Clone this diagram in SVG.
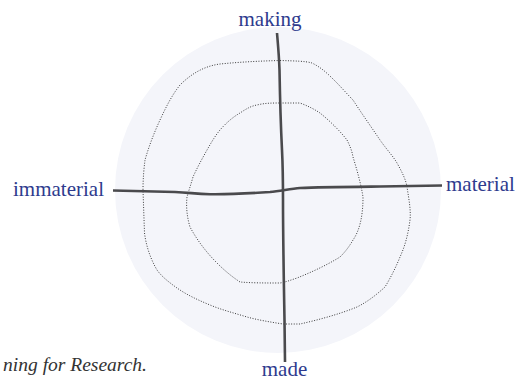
<svg xmlns="http://www.w3.org/2000/svg" width="517" height="381" viewBox="0 0 517 381">
  <style>
    .axis { fill: none; stroke: #4a4a4d; stroke-width: 2.6; stroke-linecap: butt; stroke-linejoin: round; }
    .loop { fill: none; stroke: #3a3a3a; stroke-width: 1; stroke-dasharray: 1 1.6; stroke-linejoin: round; }
    .label { font-family: "Liberation Serif", "DejaVu Serif", serif; font-size: 21px; fill: #2e3b8e; }
    .caption { font-family: "Liberation Serif", "DejaVu Serif", serif; font-style: italic; font-size: 19.5px; fill: #333; }
  </style>

  <rect width="517" height="381" fill="#ffffff"/>

  <!-- backdrop disc -->
  <g id="disc">
    <circle cx="278" cy="190" r="163" fill="#f4f5fa"/>
  </g>

  <!-- dotted contour loops -->
  <g id="outer-loop">
    <path class="loop" d="M280,60.5 C295,61 305,61 312,63 C322,68 328,74 335,81 C342,88 348,95 353,100 C362,114 372,128 380,140 C387,150 393,156 397,163 C402,172 406,180 407,187 C409,200 411,210 410,220 C408,235 405,246 400,257 C396,267 391,277 385,287 C375,296 367,302 357,307 C340,314 318,320 300,324 L283,324 C270,322 258,320 247,317 C234,313 222,310 210,305 C198,300 187,295 177,288 C170,283 162,277 157,270 C150,258 146,245 144.5,233 L143,190 C143,178 144,168 145,160 C149,146 154,133 160,120 C166,107 172,95 180,85 C192,73 205,66 220,64 C240,62 260,61 280,60.5 Z"/>
  </g>
  <g id="inner-loop">
    <path class="loop" d="M280,103 L300,103 C308,106 314,109 320,113 C330,121 340,131 347,140 C350,146 352,151 353,157 C357,170 361,184 363,197 C363,215 360,230 353,240 C349,247 345,252 340,257 C327,265 312,272 297,278 C291,280 286,282 280,283 C266,283 252,283 240,282 C231,276 224,270 217,263 C206,252 197,240 190,227 C187,217 186,207 187,197 C189,190 191,184 193,177 C197,168 202,159 207,150 C211,143 215,136 220,130 C226,123 233,117 240,113 C246,109 251,106 257,105 C265,103 272,103 280,103 Z"/>
  </g>

  <!-- axes -->
  <g id="connectors">
    <path class="axis" d="M277,33 C278,45 279,55 279.5,70 C280,100 281,130 282,150 C283,170 283,185 283,200 C283,240 284,290 284.5,320 L285,362"/>
    <path class="axis" d="M113,190.5 C130,191 150,191.5 175,192 C190,192.5 195,194 210,194.2 C230,194.5 255,193 270,192 C280,191 290,189 300,188 C320,187 350,186.8 380,186.5 L442,185.5"/>
  </g>

  <!-- pole labels -->
  <g id="making"><text class="label" x="270" y="26" text-anchor="middle">making</text></g>
  <g id="made"><text class="label" x="284.5" y="376" text-anchor="middle">made</text></g>
  <g id="immaterial"><text class="label" x="13" y="196">immaterial</text></g>
  <g id="material"><text class="label" x="446" y="191">material</text></g>

  <text class="caption" x="147" y="371" text-anchor="end">ning for Research.</text>
</svg>
